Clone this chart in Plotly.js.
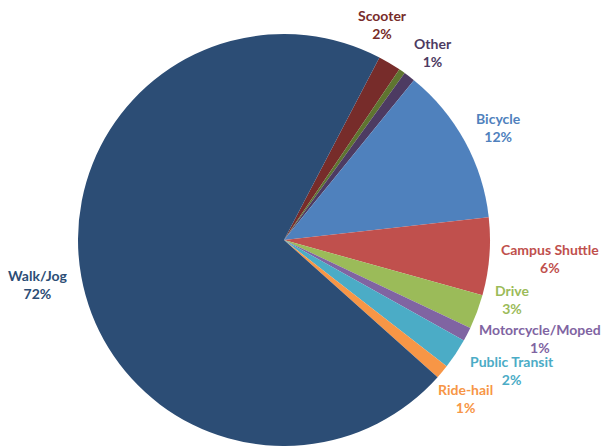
<!DOCTYPE html>
<html>
<head>
<meta charset="utf-8">
<script src="https://cdn.plot.ly/plotly-3.0.1.min.js"></script>
<style>html,body{margin:0;padding:0;background:#fff;}#chart{width:603px;height:446px;}</style>
</head>
<body>
<div id="chart"></div>
<script>
// Data (clockwise from the Scooter slice)
var categories = ['Scooter', 'Unlabeled', 'Other', 'Bicycle', 'Campus Shuttle', 'Drive', 'Motorcycle/Moped', 'Public Transit', 'Ride-hail', 'Walk/Jog'];
var shares = [1.8, 0.5, 0.9, 12.4, 6.1, 2.7, 1.1, 2.4, 1.1, 71.2];
var pctLabels = ['2%', '', '1%', '12%', '6%', '3%', '1%', '2%', '1%', '72%'];

// Styling (not data)
var sliceColors = ['#772C2A', '#5F7530', '#4D3B62', '#4F81BD', '#C0504D', '#9BBB59', '#8064A2', '#4BACC6', '#F79646', '#2C4D75'];
// label block centres in pixels
var labelPos = [[382, 24], null, [433, 52], [498, 128], [550, 258], [512, 299], [540, 338], [512, 370], [465, 398], [37, 284]];

var W = 603, H = 446;
var annotations = [];
categories.forEach(function (c, i) {
  if (!labelPos[i] || !pctLabels[i]) return;
  annotations.push({
    xref: 'paper', yref: 'paper',
    x: labelPos[i][0] / W, y: 1 - labelPos[i][1] / H,
    xanchor: 'center', yanchor: 'middle',
    showarrow: false,
    text: '<b>' + c + '</b><br><b>' + pctLabels[i] + '</b>',
    align: 'center',
    font: {family: 'Lato, "Open Sans", sans-serif', size: 14, color: sliceColors[i]}
  });
});

var trace = {
  type: 'pie',
  labels: categories,
  values: shares,
  sort: false,
  direction: 'clockwise',
  rotation: 27.6,
  textinfo: 'none',
  hoverinfo: 'label+percent',
  marker: {colors: sliceColors, line: {width: 0}},
  showlegend: false,
  domain: {x: [0, 568 / W], y: [0, 412 / H]}
};

var layout = {
  width: W, height: H,
  margin: {l: 0, r: 0, t: 0, b: 0},
  paper_bgcolor: '#ffffff',
  plot_bgcolor: '#ffffff',
  showlegend: false,
  annotations: annotations
};

Plotly.newPlot('chart', [trace], layout, {displayModeBar: false, staticPlot: true});
</script>
</body>
</html>
